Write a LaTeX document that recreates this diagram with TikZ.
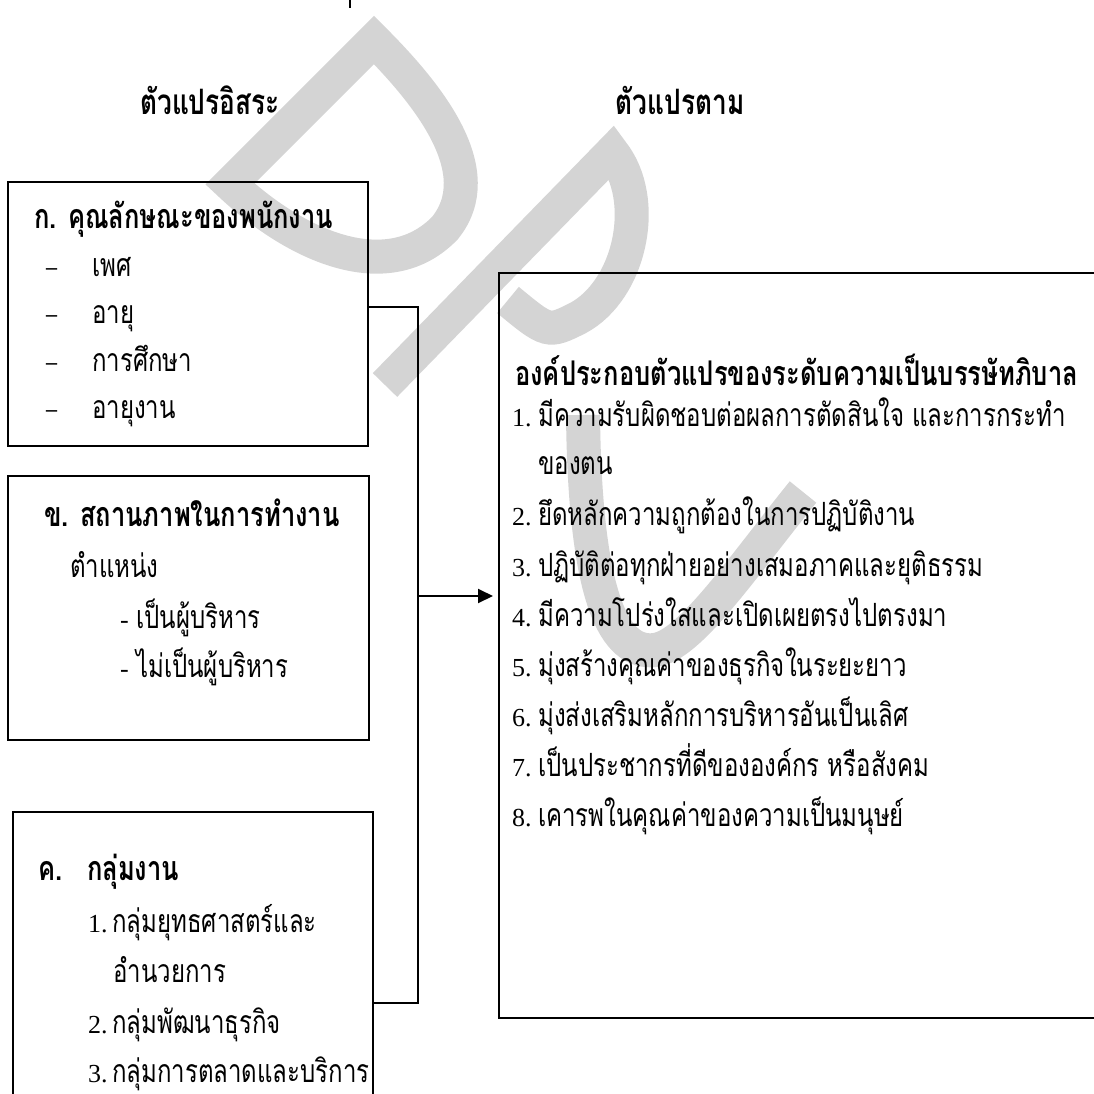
\documentclass[tikz,border=0pt]{standalone}
\usepackage{fontspec}
\setmainfont{Liberation Serif}
\newfontfamily\thai[Script=Thai,FakeStretch=0.75]{Loma}
\usetikzlibrary{arrows.meta}
\definecolor{wmgray}{HTML}{D4D4D4}
\newcommand{\tsz}{\fontsize{32}{36}\selectfont}
\newcommand{\bsz}{\fontsize{34}{38}\selectfont}
\newcommand{\nsz}{\fontsize{26}{30}\selectfont}
\begin{document}
\begin{tikzpicture}[x=1pt,y=-1pt,
  wm/.style={draw=wmgray,line width=34pt,line join=miter},
  box/.style={draw=black,line width=2pt,rectangle,inner sep=0pt},
  conn/.style={draw=black,line width=2pt},
  txt/.style={anchor=base west,inner sep=0pt,font=\tsz\thai},
  btxt/.style={anchor=base west,inner sep=0pt,font=\bsz\thai\bfseries},
  ttl/.style={anchor=base,inner sep=0pt,font=\fontsize{35}{38}\selectfont\thai\bfseries},
  num/.style={anchor=base west,inner sep=0pt,font=\nsz\rmfamily},
  dsh/.style={anchor=base west,inner sep=0pt,font=\fontsize{22}{26}\selectfont\rmfamily\bfseries}]
\clip (0,0) rectangle (1094,1094);
\fill[white] (0,0) rectangle (1094,1094);
% watermark
\draw[wm] (374,40) -- (230,184) .. controls (300,250) and (390,285) .. (445,228)
  .. controls (490,172) and (430,96) .. (374,40) -- cycle;
\draw[wm] (385,385) -- (612,152) .. controls (650,200) and (630,290) .. (578,318)
  .. controls (548,333) .. (508,300);
\draw[wm] (583,415) .. controls (585,600) and (615,655) .. (655,650)
  .. controls (690,645) and (740,570) .. (803,492);
\draw[line width=2pt] (350,0) -- (350,8);
% titles
\node[ttl] (t1) at (210,115) {ตัวแปรอิสระ};
\node[ttl] (t2) at (680,115) {ตัวแปรตาม};
% boxes
\node[box,minimum width=360pt,minimum height=264pt] (boxA) at (188,314) {};
\node[box,minimum width=361pt,minimum height=264pt] (boxB) at (188.5,608) {};
\node[box,minimum width=360pt,minimum height=300pt] (boxC) at (193,962) {};
\node[box,minimum width=620pt,minimum height=745pt] (boxR) at (809,645.5) {};
% box A text
\node[btxt] (a0) at (34,228) {ก. คุณลักษณะของพนักงาน};
\node[dsh] (ad1) at (46,274) {–};
\node[txt] (a1) at (92,276) {เพศ};
\node[dsh] (ad2) at (46,321) {–};
\node[txt] (a2) at (92,323) {อายุ};
\node[dsh] (ad3) at (46,369) {–};
\node[txt] (a3) at (92,371) {การศึกษา};
\node[dsh] (ad4) at (46,416) {–};
\node[txt] (a4) at (92,418) {อายุงาน};
% box B text
\node[btxt] (b0) at (44,526) {ข. สถานภาพในการทำงาน};
\node[txt] (b1) at (70,577) {ตำแหน่ง};
\node[num] (bd2) at (120,628) {-};
\node[txt] (b2) at (136,628) {เป็นผู้บริหาร};
\node[num] (bd3) at (120,677) {-};
\node[txt] (b3) at (136,677) {ไม่เป็นผู้บริหาร};
% box C text
\node[btxt] (c0) at (38,880) {ค.};
\node[btxt] (c0b) at (87,880) {กลุ่มงาน};
\node[num] (cn1) at (88,932) {1.};
\node[txt] (c1) at (112,932) {กลุ่มยุทธศาสตร์และ};
\node[txt] (c1b) at (113,982) {อำนวยการ};
\node[num] (cn2) at (88,1033) {2.};
\node[txt] (c2) at (112,1033) {กลุ่มพัฒนาธุรกิจ};
\node[num] (cn3) at (88,1082) {3.};
\node[txt] (c3) at (112,1082) {กลุ่มการตลาดและบริการ};
% right box text
\node[btxt] (r0) at (515,385) {องค์ประกอบตัวแปรของระดับความเป็นบรรษัทภิบาล};
\node[num] (rn1) at (512,426) {1.};
\node[txt] (r1) at (538,426) {มีความรับผิดชอบต่อผลการตัดสินใจ และการกระทำ};
\node[txt] (r1b) at (538,474) {ของตน};
\node[num] (rn2) at (512,525) {2.};
\node[txt] (r2) at (538,525) {ยึดหลักความถูกต้องในการปฏิบัติงาน};
\node[num] (rn3) at (512,576) {3.};
\node[txt] (r3) at (538,576) {ปฏิบัติต่อทุกฝ่ายอย่างเสมอภาคและยุติธรรม};
\node[num] (rn4) at (512,626) {4.};
\node[txt] (r4) at (538,626) {มีความโปร่งใสและเปิดเผยตรงไปตรงมา};
\node[num] (rn5) at (512,676) {5.};
\node[txt] (r5) at (538,676) {มุ่งสร้างคุณค่าของธุรกิจในระยะยาว};
\node[num] (rn6) at (512,726) {6.};
\node[txt] (r6) at (538,726) {มุ่งส่งเสริมหลักการบริหารอันเป็นเลิศ};
\node[num] (rn7) at (512,776) {7.};
\node[txt] (r7) at (538,776) {เป็นประชากรที่ดีขององค์กร หรือสังคม};
\node[num] (rn8) at (512,826) {8.};
\node[txt] (r8) at (538,826) {เคารพในคุณค่าของความเป็นมนุษย์};
% connectors
\coordinate (jA) at (418,307);
\coordinate (jC) at (418,1003);
\coordinate (jM) at (418,596);
\draw[conn] (boxA.east |- jA) -- (jA) -- (jC) -- (boxC.east |- jC);
\draw[conn,-{Triangle[length=15pt,width=14pt]},shorten >=5pt] (jM) -- (boxR.west |- jM);
\end{tikzpicture}
\end{document}
